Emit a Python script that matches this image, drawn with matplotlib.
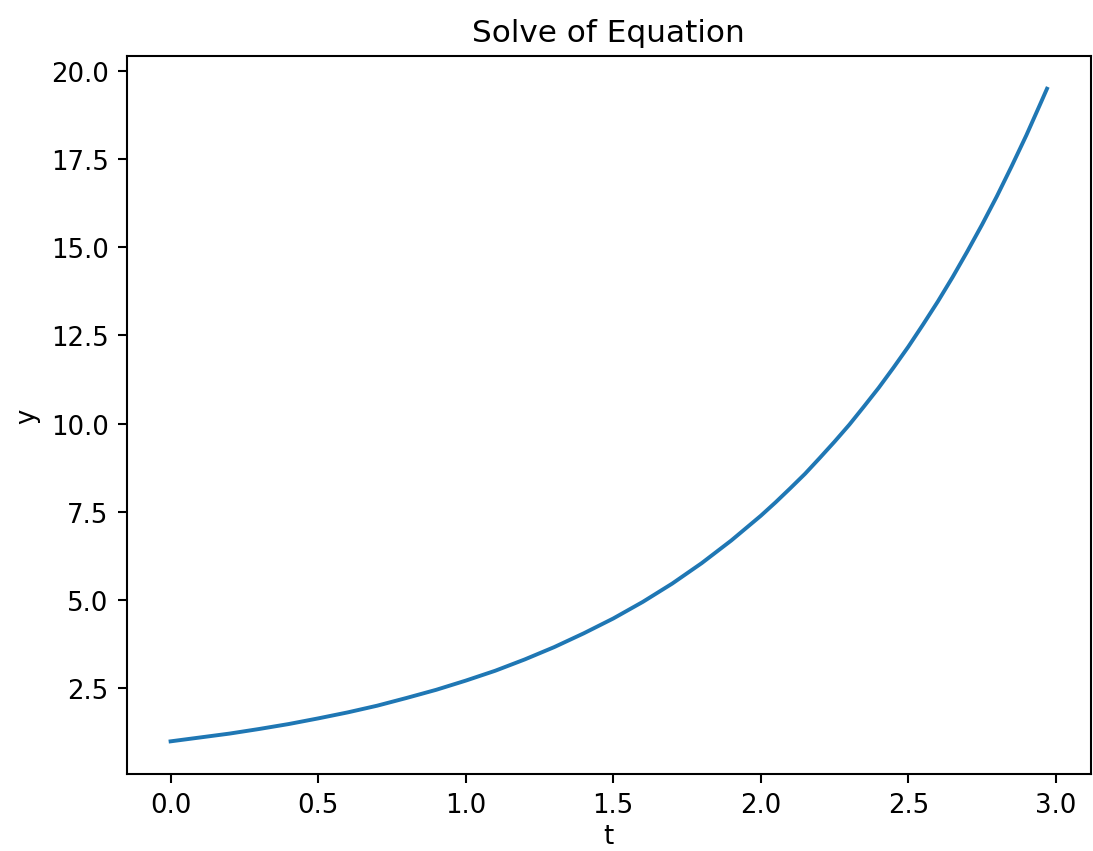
import matplotlib
matplotlib.use("Agg")
import matplotlib.pyplot as plt

# values
t = [0.0, 0.1, 0.2, 0.3, 0.4, 0.5, 0.6, 0.7, 0.8, 0.9,
     1.0, 1.1, 1.2, 1.3, 1.4, 1.5, 1.6, 1.7, 1.8, 1.9,
     2.0, 2.05, 2.1, 2.15, 2.2, 2.25, 2.3, 2.35, 2.4, 2.45,
     2.5, 2.55, 2.6, 2.65, 2.7, 2.75, 2.8, 2.85, 2.9, 2.95, 2.97]
y = [1.00, 1.11, 1.22, 1.35, 1.49, 1.65, 1.82, 2.01, 2.23, 2.46,
     2.72, 3.00, 3.32, 3.67, 4.06, 4.48, 4.95, 5.47, 6.05, 6.69,
     7.39, 7.77, 8.17, 8.58, 9.03, 9.49, 9.97, 10.49, 11.02, 11.59,
     12.18, 12.81, 13.46, 14.15, 14.88, 15.64, 16.44, 17.29, 18.17, 19.11, 19.49]

DPI = 187

fig, ax = plt.subplots(figsize=(1093 / DPI, 852 / DPI), dpi=DPI)
fig.subplots_adjust(left=0.116, right=0.998, bottom=0.0904, top=0.933)

ax.plot(t, y, color='#1f77b4', linewidth=1.5)
ax.set_title('Solve of Equation')
ax.set_xlabel('t', labelpad=2)
ax.set_ylabel('y')

fig.savefig('out.png', dpi=DPI)
